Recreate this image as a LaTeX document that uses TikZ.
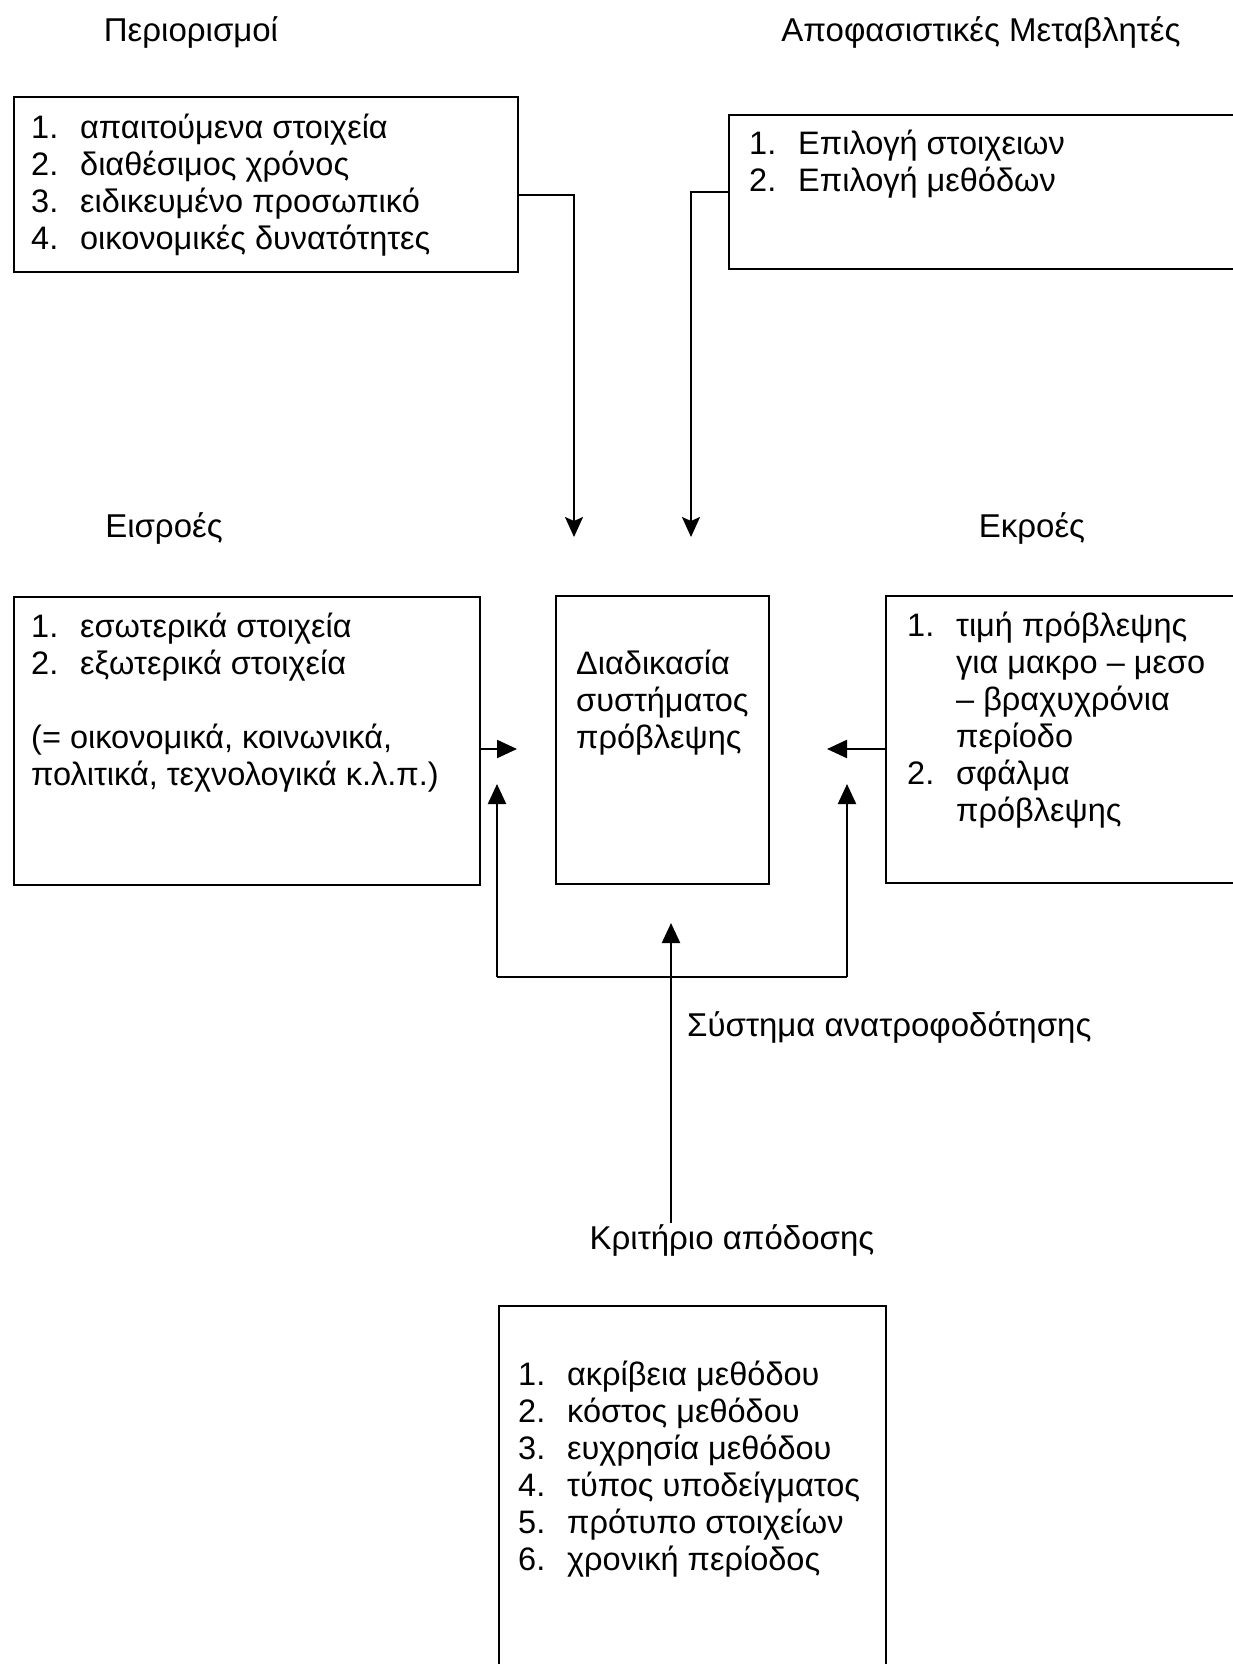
\documentclass[tikz,border=0pt]{standalone}
\usepackage{fontspec}
\setmainfont{Liberation Sans}
\usetikzlibrary{arrows.meta,positioning}

\newcommand{\nm}[1]{\makebox[49pt][l]{#1}}

\begin{document}
\begin{tikzpicture}[x=1pt,y=-1pt,
    box/.style={draw,line width=2.2pt,anchor=north west,inner sep=0pt},
    listtext/.style={anchor=north west,inner sep=0pt,align=left,
        font=\fontsize{32.5}{37}\selectfont},
    label/.style={inner sep=1pt,font=\fontsize{33}{37}\selectfont},
    flow/.style={line width=2.2pt,-{Triangle[length=20pt,width=18pt]}},
    topflow/.style={line width=2pt,-{Stealth[length=20pt,width=18pt,inset=4pt]}}]
    \useasboundingbox (0,0) rectangle (1233,1664);
    \clip (0,0) rectangle (1233,1664);
    \fill[white] (0,0) rectangle (1233,1664);

    % titles
    \node[label] (limtitle) at (191,32) {Περιορισμοί};
    \node[label] (vartitle) at (981,32) {Αποφασιστικές Μεταβλητές};
    \node[label] (intitle)  at (164,528) {Εισροές};
    \node[label] (outtitle) at (1032,528) {Εκροές};

    % boxes
    \node[box,minimum width=504pt,minimum height=175pt] (limbox) at (13,96) {};
    \node[box,minimum width=600pt,minimum height=154pt] (varbox) at (728,114) {};
    \node[box,minimum width=466pt,minimum height=288pt] (inbox) at (13,596) {};
    \node[box,minimum width=213pt,minimum height=288pt] (proc) at (555,595) {};
    \node[box,minimum width=400pt,minimum height=287pt] (outbox) at (885,595) {};
    \node[box,minimum width=387pt,minimum height=500pt] (critbox) at (498,1305) {};

    % box texts
    \node[listtext] (limlist) at (31,114) {\nm{1.}απαιτούμενα στοιχεία\\
        \nm{2.}διαθέσιμος χρόνος\\ \nm{3.}ειδικευμένο προσωπικό\\
        \nm{4.}οικονομικές δυνατότητες};
    \node[listtext] (varlist) at (749,130) {\nm{1.}Επιλογή στοιχειων\\
        \nm{2.}Επιλογή μεθόδων};
    \node[listtext] (inlist) at (31,613) {\nm{1.}εσωτερικά στοιχεία\\
        \nm{2.}εξωτερικά στοιχεία\\[37pt]
        (= οικονομικά, κοινωνικά,\\ πολιτικά, τεχνολογικά κ.λ.π.)};
    \node[listtext] (proctext) at (576,650) {Διαδικασία\\ συστήματος\\ πρόβλεψης};
    \node[listtext] (outlist) at (907,612) {\nm{1.}τιμή πρόβλεψης\\
        \nm{}για μακρο – μεσο\\ \nm{}– βραχυχρόνια\\ \nm{}περίοδο\\
        \nm{2.}σφάλμα\\ \nm{}πρόβλεψης};
    \node[listtext] (critlist) at (518,1361) {\nm{1.}ακρίβεια μεθόδου\\
        \nm{2.}κόστος μεθόδου\\ \nm{3.}ευχρησία μεθόδου\\
        \nm{4.}τύπος υποδείγματος\\ \nm{5.}πρότυπο στοιχείων\\
        \nm{6.}χρονική περίοδος};

    % free ends of the arrows
    \coordinate (limend) at (574,537);
    \coordinate (varend) at (691,537);
    \coordinate (inend) at (517,749);
    \coordinate (outend) at (827,749);
    \coordinate (fbin) at (497,784);
    \coordinate (fbout) at (847,784);
    \coordinate (fbbase) at (670,977);
    \coordinate (critend) at (671,923);

    \node[label,anchor=west] (fblabel) at (686,1027) {Σύστημα ανατροφοδότησης};
    \node[label] (critlabel) at (732,1240) {Κριτήριο απόδοσης};

    % connectors
    \draw[topflow] ([yshift=-10pt]limbox.east) -| (limend);
    \draw[topflow] (varbox.west) -| (varend);
    \draw[flow] (inbox.east |- inend) -- (inend);
    \draw[flow] (outbox.west |- outend) -- (outend);
    \draw[flow] (fbbase -| fbin) -- (fbin);
    \draw[flow] (fbbase -| fbout) -- (fbout);
    \draw[line width=2.2pt] (fbbase -| fbin) -- (fbbase -| fbout);
    \draw[flow] (critlabel.north -| critend) -- (critend);
\end{tikzpicture}
\end{document}
